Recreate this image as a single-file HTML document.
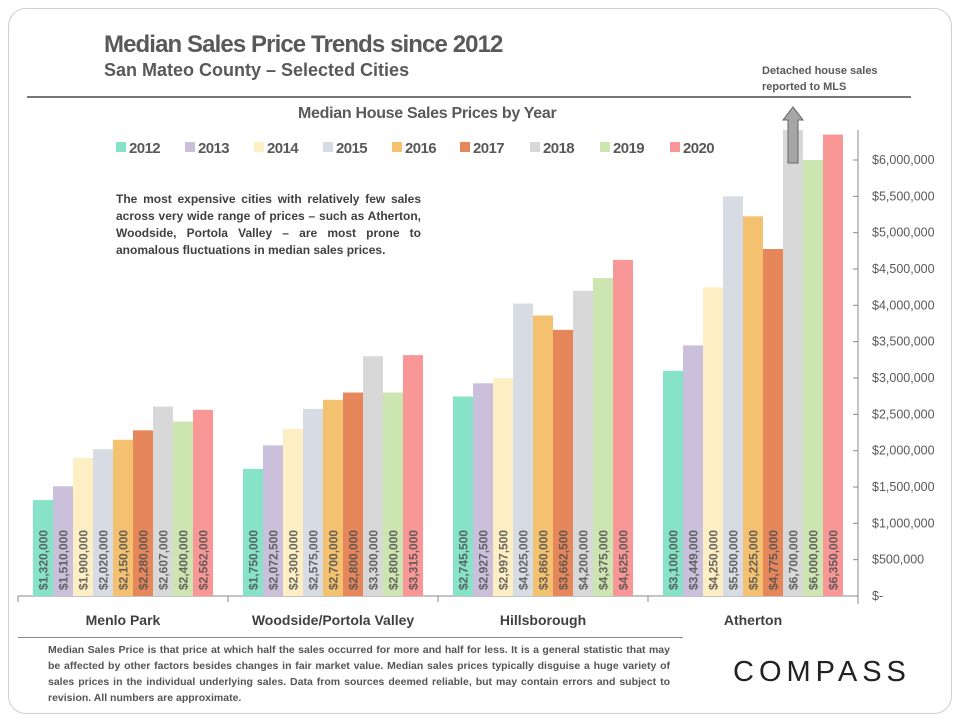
<!DOCTYPE html>
<html><head><meta charset="utf-8"><style>
body{margin:0;background:#fff;font-family:"Liberation Sans",sans-serif;}
#wrap{position:relative;width:960px;height:720px;overflow:hidden;}
.frame{position:absolute;left:8px;top:8px;width:942px;height:704px;border:1px solid #cfcfcf;border-radius:18px;}
.t{position:absolute;color:#595959;font-family:"Liberation Sans",sans-serif;}
</style></head><body>
<div id="wrap">
<div class="frame"></div>
<div class="t" style="left:104px;top:31px;font-size:24px;font-weight:bold;letter-spacing:-0.9px">Median Sales Price Trends since 2012</div>
<div class="t" style="left:104px;top:60px;font-size:18px;font-weight:bold">San Mateo County – Selected Cities</div>
<div class="t" style="left:762px;top:63px;font-size:11px;line-height:16px;font-weight:bold">Detached house sales<br>reported to MLS</div>
<div style="position:absolute;left:27px;top:96px;width:884px;height:2px;background:#777"></div>
<div class="t" style="left:298px;top:105px;font-size:16px;font-weight:bold;letter-spacing:-0.3px">Median House Sales Prices by Year</div>
<div class="t" style="left:116px;top:191px;width:305px;font-size:12px;line-height:17px;font-weight:bold;text-align:justify;color:#404040">The most expensive cities with relatively few sales across very wide range of prices – such as Atherton, Woodside, Portola Valley – are most prone to anomalous fluctuations in median sales prices.</div>
<div style="position:absolute;left:18px;top:637px;width:665px;height:1px;background:#888"></div>
<div class="t" style="left:48px;top:642px;width:622px;font-size:10.5px;line-height:16px;font-weight:bold;text-align:justify;color:#555">Median Sales Price is that price at which half the sales occurred for more and half for less. It is a general statistic that may be affected by other factors besides changes in fair market value. Median sales prices typically disguise a huge variety of sales prices in the individual underlying sales. Data from sources deemed reliable, but may contain errors and subject to revision.  All numbers are approximate.</div>
<div style="position:absolute;left:733px;top:656px;font-size:29px;letter-spacing:5px;color:#222">COMPASS</div>
<svg id="chart" width="960" height="720" style="position:absolute;left:0;top:0"></svg>
</div>
<script>
const years=["2012","2013","2014","2015","2016","2017","2018","2019","2020"];
const colors=["#86e3c8","#cbc0dc","#fdefc3","#d6dbe4","#f4c170","#e6875b","#d8d8d8","#cde5b0","#f99696"];
const cities=["Menlo Park","Woodside/Portola Valley","Hillsborough","Atherton"];
const menlo=[1320000,1510000,1900000,2020000,2150000,2280000,2607000,2400000,2562000];
const woodside=[1750000,2072500,2300000,2575000,2700000,2800000,3300000,2800000,3315000];
const hills=[2745500,2927500,2997500,4025000,3860000,3662500,4200000,4375000,4625000];
const atherton=[3100000,3449000,4250000,5500000,5225000,4775000,6700000,6000000,6350000];
const yTicks=[0,500000,1000000,1500000,2000000,2500000,3000000,3500000,4000000,4500000,5000000,5500000,6000000];
const series=[menlo,woodside,hills,atherton];
const NS="http://www.w3.org/2000/svg";
const svg=document.getElementById('chart');
const x0=18,x1=858,y0=596,plotTop=130;
const y=v=>y0-v/6000000*436;
const gw=(x1-x0)/cities.length;
function mk(t,a,p){const e=document.createElementNS(NS,t);for(const k in a)e.setAttribute(k,a[k]);(p||svg).appendChild(e);return e;}
const fmt=v=>v===0?"$-":"$"+v.toLocaleString("en-US");
const ax=mk('line',{x1:x1,x2:x1,y1:plotTop,y2:y0+8,stroke:'#888'});


yTicks.forEach(v=>{
 const tk=mk('line',{x1:x1-5,x2:x1,y1:y(v),y2:y(v),stroke:'#888'});
 
 
 const tx=mk('text',{x:872,y:y(v)+4,'font-size':12.5,fill:'#595959','font-family':'Liberation Sans, sans-serif'});
 tx.textContent=fmt(v);
 
 
});
const xa=mk('line',{x1:x0,x2:x1,y1:y0,y2:y0,stroke:'#888'});


for(let i=0;i<=cities.length;i++){
 const tk=mk('line',{x1:x0+i*gw,x2:x0+i*gw,y1:y0,y2:y0+6,stroke:'#888'});
 
 
}
const bw=20,pad=(gw-bw*years.length)/2;
series.forEach((vals,ci)=>{
 const gx=x0+ci*gw;
 const cl=mk('text',{x:gx+gw/2,y:625,'text-anchor':'middle','font-size':14,'font-weight':'bold',fill:'#404040'});
 cl.textContent=cities[ci];
 
 
 vals.forEach((v,i)=>{
  const bx=gx+pad+i*bw, top=Math.max(y(v),plotTop);
  const r=mk('rect',{x:bx,y:top,width:bw,height:y0-top,fill:colors[i]});
  
  
  const t=mk('text',{transform:`translate(${bx+bw/2+4.5},590) rotate(-90)`,'font-size':12,'font-weight':'bold',fill:'#505050','fill-opacity':0.85});
  t.textContent=fmt(v);
  
  
  if(v>6400000){
   const ar=mk('path',{d:`M${bx+bw/2-5},163 V120 H${bx+bw/2-10} L${bx+bw/2},107 L${bx+bw/2+10},120 H${bx+bw/2+5} V163 Z`,fill:'#a6a6a6',stroke:'#666','stroke-width':1});
   
   
  }
 });
});
const lx=[116,185,254,323,392,460,530,600,670];
years.forEach((yr,i)=>{
 const g=mk('g',{});
 
 
 mk('rect',{x:lx[i],y:142,width:10,height:10,fill:colors[i]},g);
 const t=mk('text',{x:lx[i]+13,y:153,'font-size':15,'font-weight':'bold',fill:'#595959','letter-spacing':'-0.6'},g);
 t.textContent=yr;
});
</script>
</body></html>
